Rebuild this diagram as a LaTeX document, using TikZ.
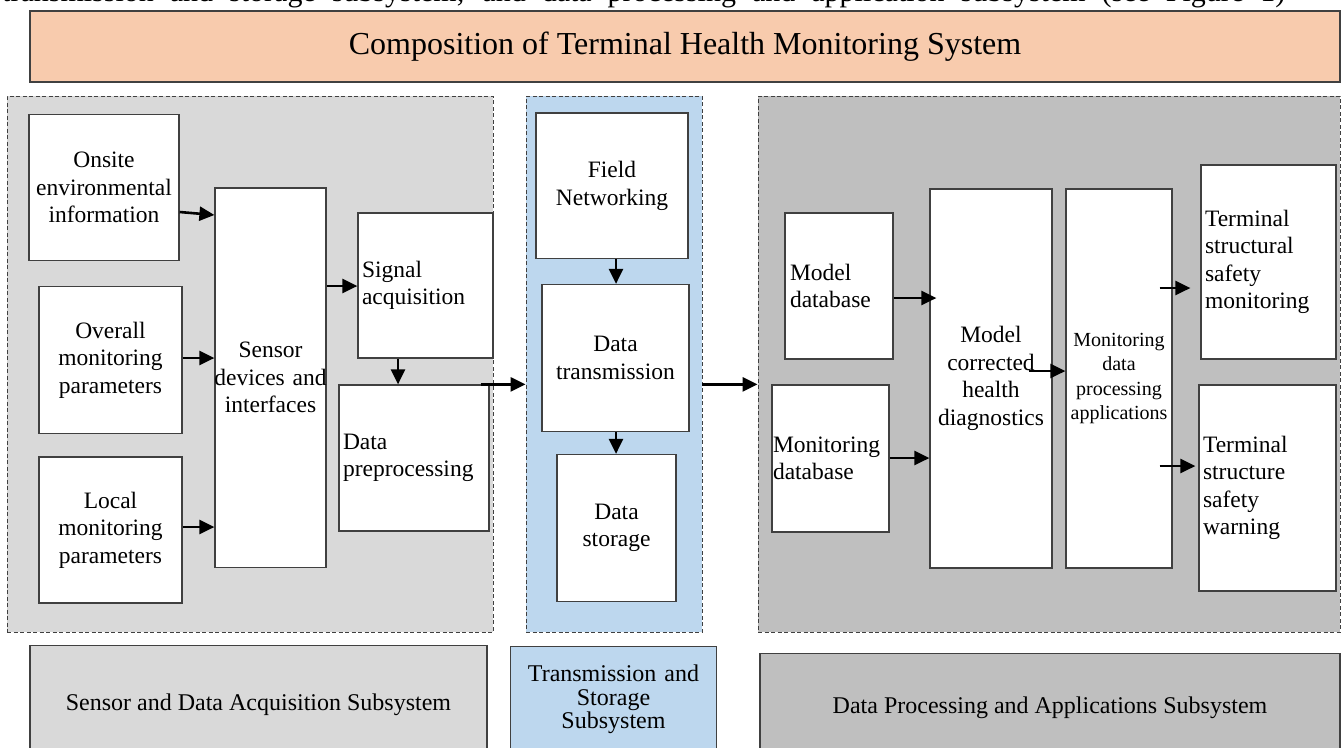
\documentclass[tikz,border=0pt]{standalone}
\usepackage{fontspec}
\setmainfont{Liberation Serif}
\usetikzlibrary{calc,arrows.meta}
\definecolor{title_peach}{HTML}{F8CBAD}
\definecolor{light_grey}{HTML}{D9D9D9}
\definecolor{mid_grey}{HTML}{BFBFBF}
\definecolor{light_blue}{HTML}{BDD7EE}
\definecolor{edge_grey}{HTML}{404040}
\newcommand{\boxfont}{\fontsize{23.5}{27.5}\selectfont}
\newcommand{\appfont}{\fontsize{20}{24.5}\selectfont}
\newcommand{\subfont}{\fontsize{24}{23.5}\selectfont}
\newcommand{\titlefont}{\fontsize{32}{38}\selectfont}
\newcommand{\runfont}{\fontsize{30}{36}\selectfont}

\begin{document}
\begin{tikzpicture}[x=1pt, y=-1pt,
	block/.style={draw=edge_grey, line width=1.2pt, fill=white, font=\boxfont, inner ysep=0pt},
	mid/.style={block, align=center, inner xsep=0pt},
	lft/.style={block, align=left, inner xsep=4pt},
	group/.style={draw=edge_grey, line width=0.9pt, dash pattern=on 4pt off 2.5pt},
	sublabel/.style={draw=edge_grey, line width=1.2pt, anchor=north, align=center, font=\subfont},
	arr/.style={line width=2.6pt, -{Triangle[length=15pt, width=14pt]}}]
	\useasboundingbox (0,0) rectangle (1343,747);
	\clip (0,0) rectangle (1343,747);
	\fill[white] (0,0) rectangle (1343,747);

	% running text cut by the top edge
	\node[anchor=base west, inner sep=0pt, font=\runfont] (runline) at (2,1.5) {\makebox[1283pt][s]{transmission and storage subsystem, and data processing and application subsystem (see Figure 1)}};

	% title bar
	\node[draw=edge_grey, line width=1.2pt, fill=title_peach, minimum width=1310, minimum height=71, font=\titlefont] (title) at (685,46.5) {Composition of Terminal Health Monitoring System};

	% the three subsystem frames
	\node[group, fill=light_grey, minimum width=486, minimum height=536] (sensorgrp) at (250,364) {};
	\node[group, fill=light_blue, minimum width=176, minimum height=536] (transgrp) at (614,364) {};
	\node[group, fill=mid_grey, minimum width=582, minimum height=536] (procgrp) at (1049,364) {};

	% sensor and acquisition
	\node[mid, minimum width=150, minimum height=146, text width=150] (onsite) at (104,187.6) {Onsite\\environmental\\information};
	\node[mid, minimum width=143, minimum height=147, text width=143] (overall) at (110.5,360) {Overall\\monitoring\\parameters};
	\node[mid, minimum width=143, minimum height=146, text width=143] (local) at (110.5,530) {Local\\monitoring\\parameters};
	\node[mid, minimum width=111, minimum height=379.5, text width=111] (sensor) at (270.5,377.8) {Sensor\\\makebox[111pt][c]{devices and}\\interfaces};
	\node[lft, minimum width=135, minimum height=145, text width=127] (sigacq) at (425.5,285.5) {Signal\\acquisition};
	\node[lft, minimum width=150, minimum height=146, text width=142] (prep) at (414,458) {Data\\preprocessing};

	% transmission and storage
	\node[mid, minimum width=152, minimum height=145.5, text width=152] (field) at (612,185.8) {Field\\Networking};
	\node[mid, minimum width=147, minimum height=147, text width=147] (trans) at (615.5,358) {Data\\transmission};
	\node[mid, minimum width=119, minimum height=147, text width=119] (store) at (616.5,528) {Data\\storage};

	% processing and applications
	\node[lft, inner xsep=5pt, minimum width=108, minimum height=146, text width=98] (modeldb) at (839,286) {Model\\database};
	\node[lft, inner xsep=1pt, minimum width=117, minimum height=147, text width=115] (mondb) at (830.5,458.5) {Monitoring\\database};
	\node[mid, minimum width=122, minimum height=379, text width=122] (corr) at (991,378.5) {Model\\corrected\\health\\diagnostics};
	\node[mid, font=\appfont, minimum width=106, minimum height=379, text width=106] (proc) at (1119,378.5) {Monitoring\\data\\processing\\applications};
	\node[lft, minimum width=135, minimum height=194, text width=127] (tsafe) at (1268.5,262) {Terminal\\structural\\safety\\monitoring};
	\node[lft, minimum width=137, minimum height=206, text width=129] (twarn) at (1267.5,488) {Terminal\\structure\\safety\\warning};

	% subsystem names along the bottom
	\node[sublabel, fill=light_grey, minimum width=457, minimum height=118] (sensorsub) at (258.5,645) {Sensor and Data Acquisition Subsystem};
	\node[sublabel, fill=light_blue, minimum width=199, minimum height=106, text width=199] (transsub) at (613.5,646) {Transmission and\\Storage\\Subsystem};
	\node[sublabel, fill=mid_grey, minimum width=580, minimum height=108] (procsub) at (1050,653) {Data Processing and Applications Subsystem};

	% connectors
	\draw[arr] (onsite.east |- 0,212) -- (sensor.west |- 0,215);
	\draw[arr] (overall.east |- 0,358) -- (sensor.west |- 0,358);
	\draw[arr] (local.east |- 0,527) -- (sensor.west |- 0,527);
	\draw[arr] (sensor.east |- 0,286) -- (sigacq.west |- 0,286);
	\draw[arr] (sigacq.south -| 398,0) -- (prep.north -| 398,0);
	\draw[arr] ($(prep.north east)+(-9,0)$) -- (transgrp.west |- prep.north);
	\draw[arr] (field.south -| 616,0) -- (trans.north -| 616,0);
	\draw[arr] (trans.south -| 616,0) -- (store.north -| 616,0);
	\draw[arr] (transgrp.east |- prep.north) -- (procgrp.west |- prep.north);
	\draw[arr] (modeldb.east |- 0,298) -- ($(corr.west |- 0,298)+(7,0)$);
	\draw[arr] (mondb.east |- 0,458) -- (corr.west |- 0,458);
	\draw[arr] ($(corr.east |- 0,371)+(-24,0)$) -- (proc.west |- 0,371);
	\draw[arr] ($(proc.east |- 0,288)+(-13,0)$) -- ($(tsafe.west |- 0,288)+(-10,0)$);
	\draw[arr] ($(proc.east |- 0,466)+(-13,0)$) -- ($(twarn.west |- 0,466)+(-3,0)$);
\end{tikzpicture}
\end{document}
